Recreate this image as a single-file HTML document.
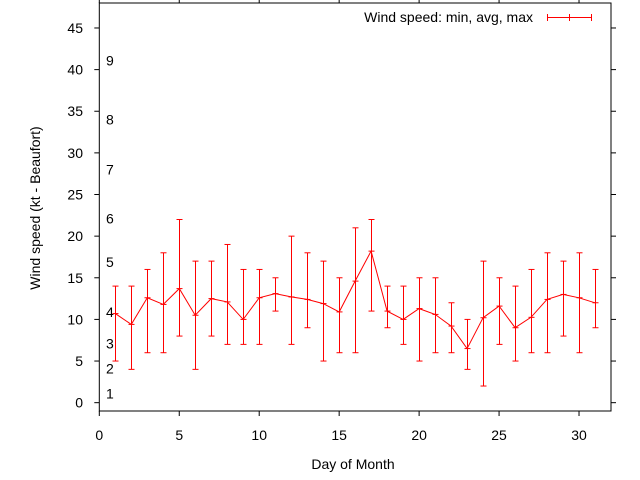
<!DOCTYPE html>
<html><head><meta charset="utf-8"><style>
html,body{margin:0;padding:0;background:#fff;}
svg{display:block;font-family:"Liberation Sans",sans-serif;}
</style></head><body>
<svg id="chart" width="640" height="480" viewBox="0 0 640 480" xmlns="http://www.w3.org/2000/svg">
<rect x="0" y="0" width="640" height="480" fill="#fff"/>
<g id="axes"></g>
<g id="beaufort"></g>
<g id="series"></g>
<text x="0" y="0" transform="translate(40,208) rotate(-90)" text-anchor="middle" font-size="14">Wind speed (kt - Beaufort)</text>
<text x="353" y="469" text-anchor="middle" font-size="14">Day of Month</text>
<g>
<text x="533" y="22" text-anchor="end" font-size="14">Wind speed: min, avg, max</text>
<g stroke="#f00" stroke-width="1">
<line x1="547" y1="17.5" x2="592" y2="17.5"/><line x1="547.5" y1="14" x2="547.5" y2="21"/><line x1="591.5" y1="14" x2="591.5" y2="21"/><line x1="569.5" y1="14" x2="569.5" y2="21"/>
</g></g>
</svg>
<script>
const days = [1,2,3,4,5,6,7,8,9,10,11,12,13,14,15,16,17,18,19,20,21,22,23,24,25,26,27,28,29,30,31];
const avgSpeed = [10.7,9.4,12.6,11.8,13.7,10.5,12.5,12.1,10.0,12.6,13.1,12.7,12.4,11.9,10.9,14.6,18.2,11.0,10.0,11.3,10.6,9.2,6.5,10.2,11.6,9.0,10.25,12.4,13.0,12.6,12.0];
const minSpeed = [5,4,6,6,8,4,8,7,7,7,11,7,9,5,6,6,11,9,7,5,6,6,4,2,7,5,6,6,8,6,9];
const maxSpeed = [14,14,16,18,22,17,17,19,16,16,15,20,18,17,15,21,22,14,14,15,15,12,10,17,15,14,16,18,17,18,16];
const xTicks = [0,5,10,15,20,25,30];
const yTicks = [0,5,10,15,20,25,30,35,40,45];
const beaufortLabels = ["1","2","3","4","5","6","7","8","9"];
const beaufortValues = [1.1,4.1,7.1,10.9,16.9,22.1,28,34,41.1];

const NS="http://www.w3.org/2000/svg";
const L=99.3,R=611,T=3,B=411;
const xMin=0,xMax=32,yMin=-1,yMax=48;
function X(v){return L+(v-xMin)/(xMax-xMin)*(R-L);}
function Y(v){return B-(v-yMin)/(yMax-yMin)*(B-T);}
function mk(tag,attrs,parent){const e=document.createElementNS(NS,tag);for(const k in attrs)e.setAttribute(k,attrs[k]);parent.appendChild(e);return e;}

const axes=document.getElementById('axes');
const frame=mk('rect',{x:L,y:T,width:R-L,height:B-T,fill:'none',stroke:'#000','stroke-width':1},axes);


xTicks.forEach(t=>{
  const x=X(t);
  const a=mk('line',{x1:x,y1:B,x2:x,y2:B+5,stroke:'#000'},axes);
  
  
  const b=mk('line',{x1:x,y1:T,x2:x,y2:T-5,stroke:'#000'},axes);
  
  
  const tx=mk('text',{x:x,y:440,'text-anchor':'middle','font-size':14},axes);
  tx.textContent=t;
  
  
});
yTicks.forEach(t=>{
  const y=Y(t);
  const a=mk('line',{x1:L-5,y1:y,x2:L,y2:y,stroke:'#000'},axes);
  
  
  const b=mk('line',{x1:R,y1:y,x2:R+5,y2:y,stroke:'#000'},axes);
  
  
  const tx=mk('text',{x:83,y:y+5,'text-anchor':'end','font-size':14},axes);
  tx.textContent=t;
  
  
});
const bg=document.getElementById('beaufort');
beaufortLabels.forEach((s,i)=>{
  const tx=mk('text',{x:106,y:Y(beaufortValues[i])+5,'font-size':14},bg);
  tx.textContent=s;
  
  
});
const sg=document.getElementById('series');
const pts=days.map((d,i)=>X(d).toFixed(1)+','+Y(avgSpeed[i]).toFixed(1)).join(' ');
const pl=mk('polyline',{points:pts,fill:'none',stroke:'#f00','stroke-width':1},sg);


days.forEach((d,i)=>{
  const x=Math.round(X(d))+0.5;
  const g=mk('g',{stroke:'#f00','stroke-width':1},sg);
  
  
  const y1=Y(minSpeed[i]),y2=Y(maxSpeed[i]),ya=Y(avgSpeed[i]);
  mk('line',{x1:x,y1:y1,x2:x,y2:y2},g);
  mk('line',{x1:x-3,y1:y1,x2:x+3,y2:y1},g);
  mk('line',{x1:x-3,y1:y2,x2:x+3,y2:y2},g);
  mk('line',{x1:x-3,y1:ya,x2:x+3,y2:ya},g);
});
</script>
</body></html>
